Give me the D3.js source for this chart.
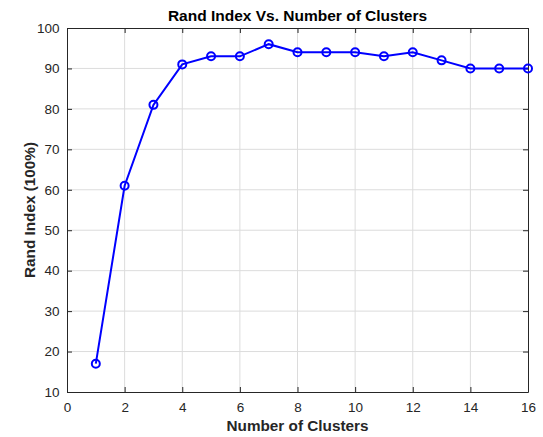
<!DOCTYPE html>
<html>
<head>
<meta charset="utf-8">
<script src="https://cdn.jsdelivr.net/npm/d3@7"></script>
<style>
  html, body { margin: 0; padding: 0; background: #fff; }
  svg { display: block; font-family: "Liberation Sans", Arial, Helvetica, sans-serif; }
</style>
</head>
<body>
<svg id="chart" width="543" height="437"></svg>
<script>
// Rand index (%) for each number of clusters
const clusters = [1, 2, 3, 4, 5, 6, 7, 8, 9, 10, 11, 12, 13, 14, 15, 16];
const randIndex = [17, 61, 81, 91, 93, 93, 96, 94, 94, 94, 93, 94, 92, 90, 90, 90];
const xTicks = [0, 2, 4, 6, 8, 10, 12, 14, 16];
const yTicks = [10, 20, 30, 40, 50, 60, 70, 80, 90, 100];

const svg = d3.select("#chart");
const m = { left: 67, top: 28, right: 528, bottom: 392 };

const x = d3.scaleLinear().domain([0, 16]).range([m.left, m.right]);
const y = d3.scaleLinear().domain([10, 100]).range([m.bottom, m.top]);

const axisColor = "#262626";
const tickLen = 5;

// grid lines
const grid = svg.append("g");
grid.selectAll("line.gx").data(xTicks.slice(1, -1)).enter().append("line")
  .attr("x1", d => x(d)).attr("x2", d => x(d))
  .attr("y1", m.top).attr("y2", m.bottom)
  .attr("stroke", "#dcdcdc").attr("stroke-width", 1);
grid.selectAll("line.gy").data(yTicks.slice(1, -1)).enter().append("line")
  .attr("x1", m.left).attr("x2", m.right)
  .attr("y1", d => y(d)).attr("y2", d => y(d))
  .attr("stroke", "#dcdcdc").attr("stroke-width", 1);

// axes with inward ticks on all four sides
function styleAxis(g) {
  g.select(".domain").attr("stroke", axisColor);
  g.selectAll(".tick line").attr("stroke", axisColor);
  g.selectAll(".tick text").attr("fill", axisColor)
    .style("font-family", "'Liberation Sans', Arial, sans-serif").style("font-size", "13.5px");
}
svg.append("g").attr("transform", `translate(0,${m.bottom})`)
  .call(d3.axisBottom(x).tickValues(xTicks).tickSizeInner(-tickLen).tickSizeOuter(0).tickPadding(10))
  .call(styleAxis);
svg.append("g").attr("transform", `translate(0,${m.top})`)
  .call(d3.axisTop(x).tickValues(xTicks).tickSizeInner(-tickLen).tickSizeOuter(0).tickFormat(""))
  .call(styleAxis);
svg.append("g").attr("transform", `translate(${m.left},0)`)
  .call(d3.axisLeft(y).tickValues(yTicks).tickSizeInner(-tickLen).tickSizeOuter(0).tickPadding(7.5))
  .call(styleAxis);
svg.append("g").attr("transform", `translate(${m.right},0)`)
  .call(d3.axisRight(y).tickValues(yTicks).tickSizeInner(-tickLen).tickSizeOuter(0).tickFormat(""))
  .call(styleAxis);

// data line and markers
const pts = clusters.map((c, i) => [c, randIndex[i]]);
svg.append("path").datum(pts)
  .attr("fill", "none").attr("stroke", "#0000ff").attr("stroke-width", 2)
  .attr("d", d3.line().x(d => x(d[0])).y(d => y(d[1])));
svg.selectAll("circle.pt").data(pts).enter().append("circle")
  .attr("cx", d => x(d[0])).attr("cy", d => y(d[1])).attr("r", 4)
  .attr("fill", "none").attr("stroke", "#0000ff").attr("stroke-width", 2);

// title and axis labels
svg.append("text").attr("x", (m.left + m.right) / 2).attr("y", 21)
  .attr("text-anchor", "middle").attr("font-weight", "bold").attr("font-size", "15.5px")
  .attr("fill", "#000").text("Rand Index Vs. Number of Clusters");
svg.append("text").attr("x", (m.left + m.right) / 2).attr("y", 431)
  .attr("text-anchor", "middle").attr("font-weight", "bold").attr("font-size", "15.3px")
  .attr("fill", axisColor).text("Number of Clusters");
svg.append("text")
  .attr("transform", `translate(35,${(m.top + m.bottom) / 2}) rotate(-90)`)
  .attr("text-anchor", "middle").attr("font-weight", "bold").attr("font-size", "15.3px")
  .attr("fill", axisColor).text("Rand Index (100%)");
</script>
</body>
</html>
